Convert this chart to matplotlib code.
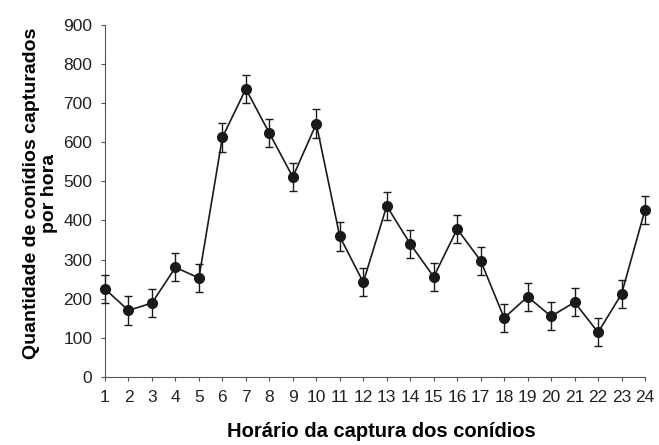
import numpy as np
import matplotlib.pyplot as plt

plt.rcParams['font.family'] = ['Liberation Sans', 'DejaVu Sans']

# hour of capture and mean conidia count per hour
horas = list(range(1, 25))
conidios = [225, 170, 189, 280, 253, 612, 736, 623, 511, 647, 359, 242,
            437, 340, 256, 378, 297, 151, 205, 155, 191, 114, 212, 427]
erro = [36, 36, 36, 36, 36, 36, 36, 36, 36, 37, 36, 36,
        36, 36, 36, 36, 36, 36, 36, 36, 36, 36, 36, 36]

fig = plt.figure(figsize=(6.59, 4.45), dpi=100)
ax = fig.add_axes([0.1593, 0.1528, 0.8195, 0.7917])

ax.errorbar(horas, conidios, yerr=erro, fmt='o-', color='#1a1a1a',
            markersize=7, linewidth=1.2, elinewidth=1.0, capsize=3,
            capthick=1.0, clip_on=False, zorder=3)

ax.set_xlim(1, 24)
ax.set_ylim(0, 900)
ax.set_xticks(horas)
ax.set_yticks(np.arange(0, 901, 100))
ax.spines['top'].set_visible(False)
ax.spines['right'].set_visible(False)
ax.spines['left'].set_color('#555555')
ax.spines['bottom'].set_color('#555555')
ax.tick_params(axis='both', direction='out', length=3, color='#555555',
               labelsize=12.5, labelcolor='#222222')
ax.tick_params(axis='x', pad=6)
ax.tick_params(axis='y', pad=6)

ax.set_xlabel('Horário da captura dos conídios', fontsize=14.5,
              fontweight='bold')
ax.set_ylabel('Quantidade de conídios capturados\npor hora', fontsize=14,
              fontweight='bold', linespacing=1.05)
ax.xaxis.set_label_coords(0.512, -0.128)
ax.yaxis.set_label_coords(-0.087, 0.52)

fig.savefig('out.png', dpi=100)
